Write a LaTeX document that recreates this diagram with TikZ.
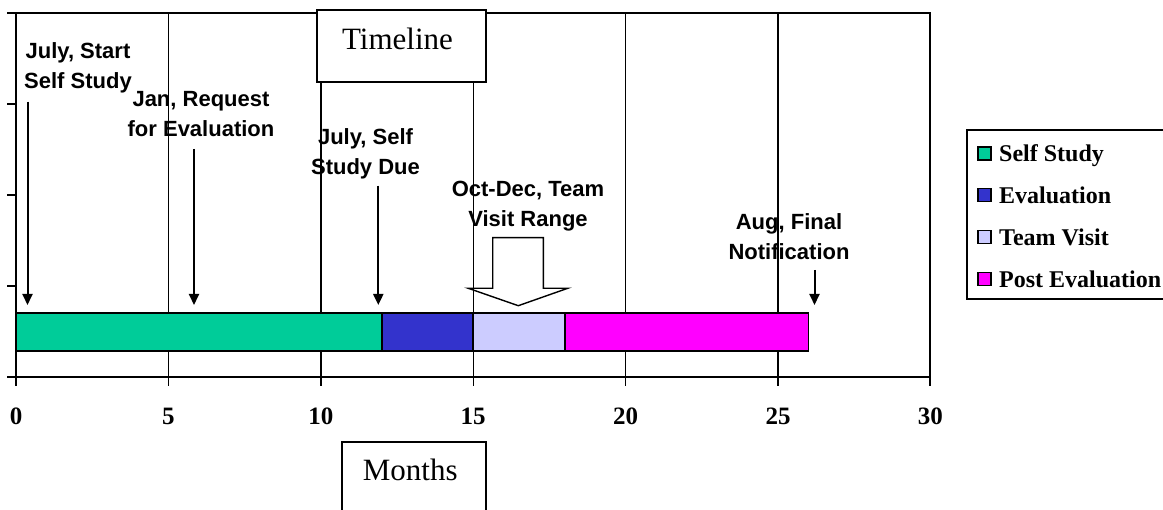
\documentclass[tikz,border=0pt]{standalone}
\usepackage{fontspec}
\setmainfont{Liberation Serif}
\newfontfamily\arialf{Liberation Sans}
\usetikzlibrary{arrows.meta}
\definecolor{ssgreen}{HTML}{00CC99}
\definecolor{evblue}{HTML}{3333CC}
\definecolor{tvlav}{HTML}{CCCCFF}
\definecolor{pemag}{HTML}{FF00FF}
\begin{document}
\begin{tikzpicture}[x=1pt,y=-1pt,
  frame/.style={line width=1.9pt},
  gridln/.style={line width=1.4pt},
  seg/.style={draw=black,line width=1.8pt},
  note/.style={font=\arialf\bfseries\fontsize{22}{30}\selectfont, align=center, anchor=north, inner sep=0pt},
  pointer/.style={line width=2pt, -{Triangle[width=10pt,length=11pt]}},
  ticklab/.style={font=\bfseries\fontsize{25}{30}\selectfont, inner sep=0pt},
  titlebox/.style={draw, line width=1.8pt, fill=white},
  titletext/.style={font=\fontsize{31}{36}\selectfont, anchor=base, inner sep=0pt},
  legtext/.style={font=\bfseries\fontsize{24}{30}\selectfont, anchor=base west, inner sep=0pt},
  legkey/.style={draw, line width=1.5pt, minimum size=13pt, inner sep=0pt},
]
\useasboundingbox (0,0) rectangle (1163,510);
\clip (0,0) rectangle (1163,510);

% grid lines and bottom ticks / labels
\foreach \k in {0,5,...,30} {
  \pgfmathsetmacro{\xx}{16+30.48*\k}
  \draw[gridln] (\xx,13) -- (\xx,385.7);
  \node[ticklab] (t\k) at (\xx,416.7) {\k};
}
% left ticks
\foreach \yy in {13,104,195,286,377} {
  \draw[frame] (7,\yy) -- (16,\yy);
}
% frame
\draw[frame] (7,13) -- (930.4,13) -- (930.4,385.7);
\draw[frame] (16,13) -- (16,385.7);
\draw[frame] (7,377) -- (930.4,377);

% bar segments
\draw[seg, fill=ssgreen] (16,313) rectangle (381.8,351);
\draw[seg, fill=evblue] (381.8,313) rectangle (473.2,351);
\draw[seg, fill=tvlav] (473.2,313) rectangle (564.6,351);
\draw[seg, fill=pemag] (564.6,313) rectangle (808.5,351);

% annotations
\node[note] (n1) at (78,42) {July, Start\\Self Study};
\node[note] (n2) at (201,91.5) {Jan, Request\\for Evaluation};
\node[note] (n3) at (365.5,128.3) {July, Self\\Study Due};
\node[note] (n4) at (528,180.7) {Oct-Dec, Team\\Visit Range};
\node[note] (n5) at (789,213.3) {Aug, Final\\Notification};

\coordinate (s1) at (27.5,101.7); \coordinate (e1) at (27.5,305);
\coordinate (s2) at (194,149);   \coordinate (e2) at (194,305);
\coordinate (s3) at (378.3,185.7); \coordinate (e3) at (378.3,305);
\coordinate (s5) at (814.5,270); \coordinate (e5) at (814.5,305);
\draw[pointer] (s1) -- (e1);
\draw[pointer] (s2) -- (e2);
\draw[pointer] (s3) -- (e3);
\draw[pointer] (s5) -- (e5);

% block arrow
\draw[line width=1.4pt, line join=miter] (492.7,237.7) -- (543.3,237.7) -- (543.3,288.3) -- (567.7,288.3)
  -- (518.3,305.7) -- (468.3,288.3) -- (492.7,288.3) -- cycle;

% title boxes
\draw[titlebox] (317.3,10) rectangle (486,82);
\node[titletext] (title) at (397.5,50) {Timeline};
\draw[titlebox] (341.7,441.7) rectangle (486,520);
\node[titletext] (months) at (410.3,481) {Months};

% legend
\draw[line width=1.8pt, fill=white] (966.7,130) rectangle (1180,299);
\node[legkey, fill=ssgreen] (k1) at (984.3,153.4) {};
\node[legkey, fill=evblue]  (k2) at (984.3,195.2) {};
\node[legkey, fill=tvlav]   (k3) at (984.3,237) {};
\node[legkey, fill=pemag]   (k4) at (984.3,278.8) {};
\node[legtext] (l1) at (999,161.7) {Self Study};
\node[legtext] (l2) at (999,203.5) {Evaluation};
\node[legtext] (l3) at (999,245.3) {Team Visit};
\node[legtext] (l4) at (999,287.1) {Post Evaluation};
\end{tikzpicture}
\end{document}
